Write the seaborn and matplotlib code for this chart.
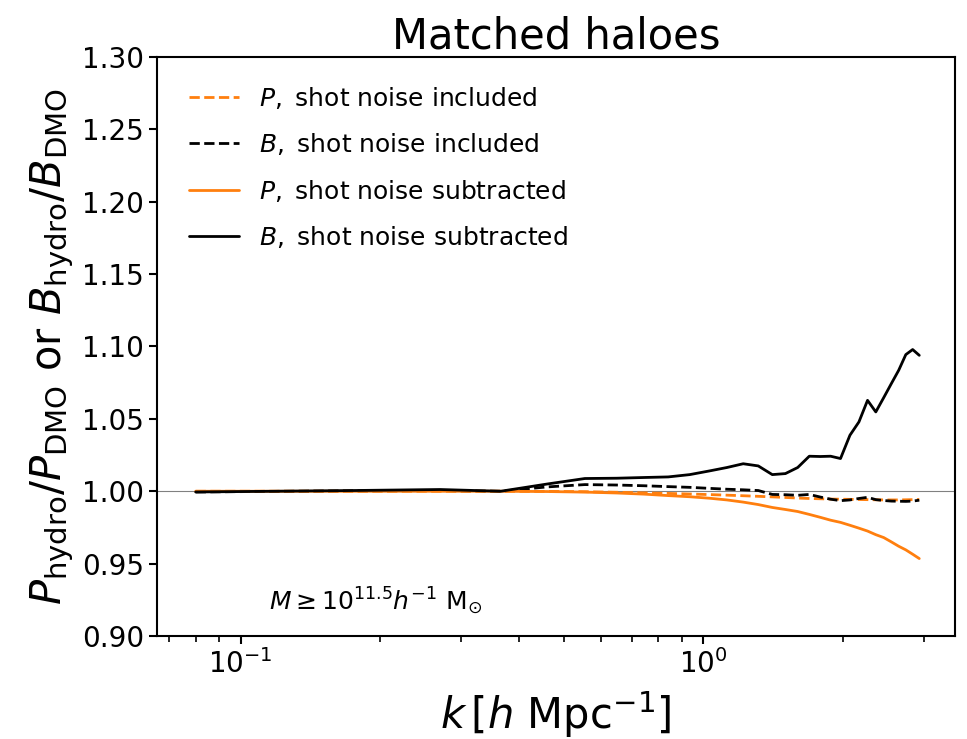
import numpy as np
import pandas as pd
import matplotlib
matplotlib.use("Agg")
import matplotlib.pyplot as plt
import seaborn as sns

# ---- data ----
k = [0.080, 0.175, 0.270, 0.365, 0.460, 0.555, 0.650, 0.745, 0.840, 0.935,
     1.030, 1.125, 1.220, 1.315, 1.410, 1.505, 1.600, 1.695, 1.790, 1.885,
     1.980, 2.075, 2.170, 2.265, 2.360, 2.455, 2.550, 2.645, 2.740, 2.835, 2.930]

P_incl = [1.0000, 1.0000, 1.0000, 1.0000, 0.9999, 0.9997, 0.9993, 0.9989, 0.9985, 0.9981,
          0.9977, 0.9973, 0.9969, 0.9965, 0.9961, 0.9957, 0.9953, 0.9950, 0.9948, 0.9946,
          0.9945, 0.9944, 0.9943, 0.9942, 0.9941, 0.9940, 0.9940, 0.9940, 0.9941, 0.9942, 0.9943]

B_incl = [0.9995, 1.0003, 1.0005, 1.0000, 1.0030, 1.0046, 1.0043, 1.0038, 1.0032, 1.0027,
          1.0020, 1.0014, 1.0010, 1.0005, 0.9978, 0.9976, 0.9972, 0.9978, 0.9960, 0.9945,
          0.9935, 0.9940, 0.9950, 0.9958, 0.9942, 0.9936, 0.9932, 0.9931, 0.9930, 0.9932, 0.9938]

P_sub = [1.0000, 1.0000, 1.0000, 1.0000, 0.9998, 0.9994, 0.9988, 0.9980, 0.9970, 0.9962,
         0.9952, 0.9940, 0.9925, 0.9908, 0.9888, 0.9874, 0.9860, 0.9840, 0.9820, 0.9800,
         0.9785, 0.9765, 0.9745, 0.9725, 0.9700, 0.9680, 0.9650, 0.9620, 0.9595, 0.9565, 0.9535]

B_sub = [0.9995, 1.0005, 1.0012, 1.0000, 1.0050, 1.0088, 1.0090, 1.0095, 1.0099, 1.0115,
         1.0140, 1.0164, 1.0190, 1.0175, 1.0115, 1.0122, 1.0164, 1.0242, 1.0240, 1.0242,
         1.0226, 1.0387, 1.0479, 1.0628, 1.0548, 1.0647, 1.0744, 1.0836, 1.0944, 1.0979, 1.0939]

labels = [r'$P,$ shot noise included', r'$B,$ shot noise included',
          r'$P,$ shot noise subtracted', r'$B,$ shot noise subtracted']
yticks = [0.90, 0.95, 1.00, 1.05, 1.10, 1.15, 1.20, 1.25, 1.30]

sns.set_theme(style="ticks", rc={
    "axes.edgecolor": "black", "axes.linewidth": 1.5,
    "xtick.color": "black", "ytick.color": "black",
    "xtick.major.width": 1.5, "ytick.major.width": 1.5,
    "xtick.minor.width": 1.2, "ytick.minor.width": 1.2,
    "xtick.major.size": 6, "ytick.major.size": 6,
    "xtick.minor.size": 4,
    "axes.labelcolor": "black", "text.color": "black",
})
plt.rcParams['font.family'] = ['DejaVu Sans']
plt.rcParams['mathtext.fontset'] = 'dejavusans'

fig = plt.figure(figsize=(9.67, 7.39), dpi=100)
ax = fig.add_axes([157/967, 1-636/739, (955-157)/967, (636-57)/739])

df = pd.DataFrame({"k": k, "P_incl": P_incl, "B_incl": B_incl, "P_sub": P_sub, "B_sub": B_sub})
orange = "#ff7f0e"
styles = [("P_incl", orange, "--"), ("B_incl", "black", "--"),
          ("P_sub", orange, "-"), ("B_sub", "black", "-")]

ax.axhline(1.0, color="gray", lw=0.8, zorder=1)
for (col, c, ls), lab in zip(styles, labels):
    sns.lineplot(data=df, x="k", y=col, ax=ax, color=c, linestyle=ls, lw=2.0, label=lab, zorder=3)

ax.set_xscale("log")
ax.set_xlim(0.066, 3.5)
ax.set_ylim(0.90, 1.30)
ax.set_yticks(yticks)
ax.set_yticklabels([f"{v:.2f}" for v in yticks])
ax.tick_params(axis="both", which="major", labelsize=20)

ax.set_xlabel(r'$k\,[h\ {\rm Mpc}^{-1}]$', fontsize=30, labelpad=7)
ax.set_ylabel(r'$P_{\rm hydro}/P_{\rm DMO}$ or $B_{\rm hydro}/B_{\rm DMO}$', fontsize=30)
ax.set_title("Matched haloes", fontsize=30)

ax.text(0.14, 0.033, r'$M \geq 10^{11.5} h^{-1}\ {\rm M}_{\odot}$', transform=ax.transAxes,
        fontsize=18, va="bottom", ha="left")

ax.legend(loc="upper left", bbox_to_anchor=(0.0125, 0.991), frameon=False,
          fontsize=18, labelspacing=0.82)

fig.savefig("out.png", dpi=100)
